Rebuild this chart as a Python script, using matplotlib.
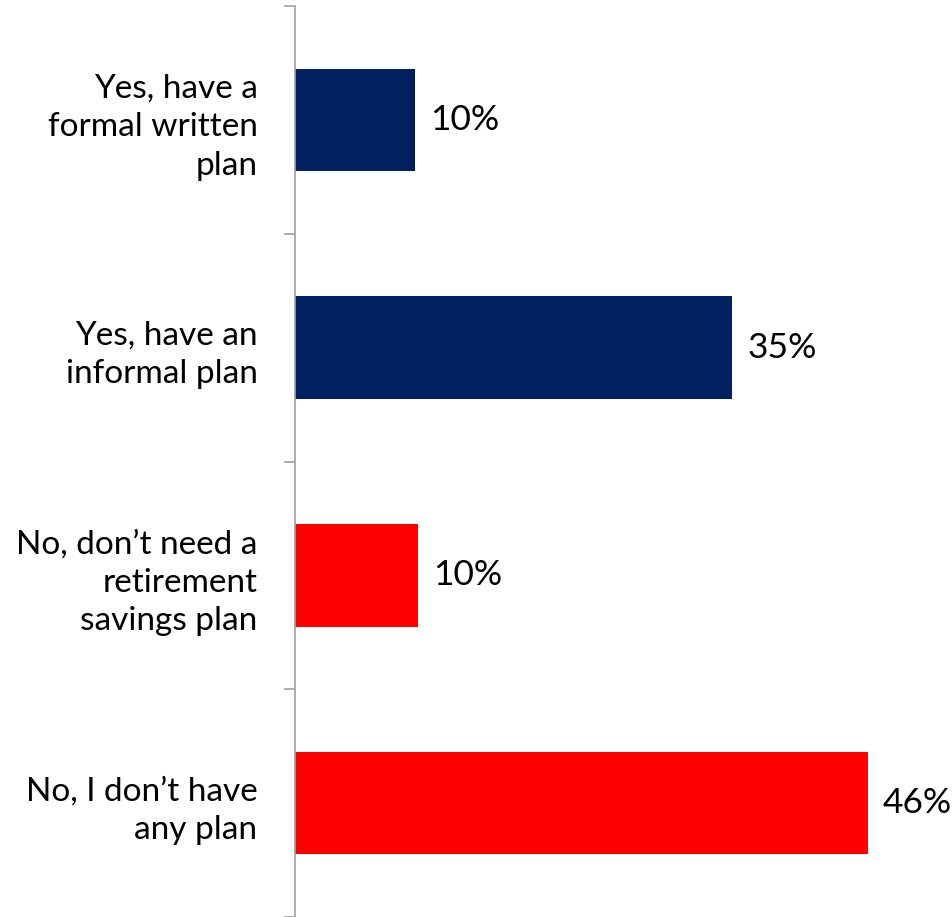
import matplotlib.pyplot as plt

# Data
categories = ["Yes, have a\nformal written\nplan",
              "Yes, have an\ninformal plan",
              "No, don\u2019t need a\nretirement\nsavings plan",
              "No, I don\u2019t have\nany plan"]
values = [9.6, 35.1, 9.9, 46.0]
value_labels = ["10%", "35%", "10%", "46%"]
colors = ["#002060", "#002060", "#FF0000", "#FF0000"]

plt.rcParams['font.family'] = ['Lato', 'DejaVu Sans']

fig = plt.figure(figsize=(9.53, 9.17), dpi=100)
ax = fig.add_axes([295 / 953, 0, 1 - 295 / 953, 1 - 6 / 917])

pos = list(range(len(categories)))
ax.barh(pos, values, height=0.45, color=colors)

ax.set_ylim(len(categories) - 0.5, -0.5)
ax.set_xlim(0, 658 / 12.45)

for p, v, lab in zip(pos, values, value_labels):
    ax.annotate(lab, (v, p), xytext=(11, 0), textcoords="offset points",
                va="center", ha="left", fontsize=25.5)

# category labels at bar centres, boundary ticks between them
ax.set_yticks(pos)
ax.set_yticklabels(categories, fontsize=24, linespacing=1.36)
ax.tick_params(axis="y", which="major", length=0, pad=27)
ax.set_yticks([-0.5, 0.5, 1.5, 2.5, 3.5], minor=True)
ax.tick_params(axis="y", which="minor", length=8, width=1.2, color="#a0a0a0")

ax.set_xticks([])
for s in ["top", "right", "bottom"]:
    ax.spines[s].set_visible(False)
ax.spines["left"].set_color("#a0a0a0")
ax.spines["left"].set_linewidth(1.2)

plt.savefig("out.png", dpi=100)
